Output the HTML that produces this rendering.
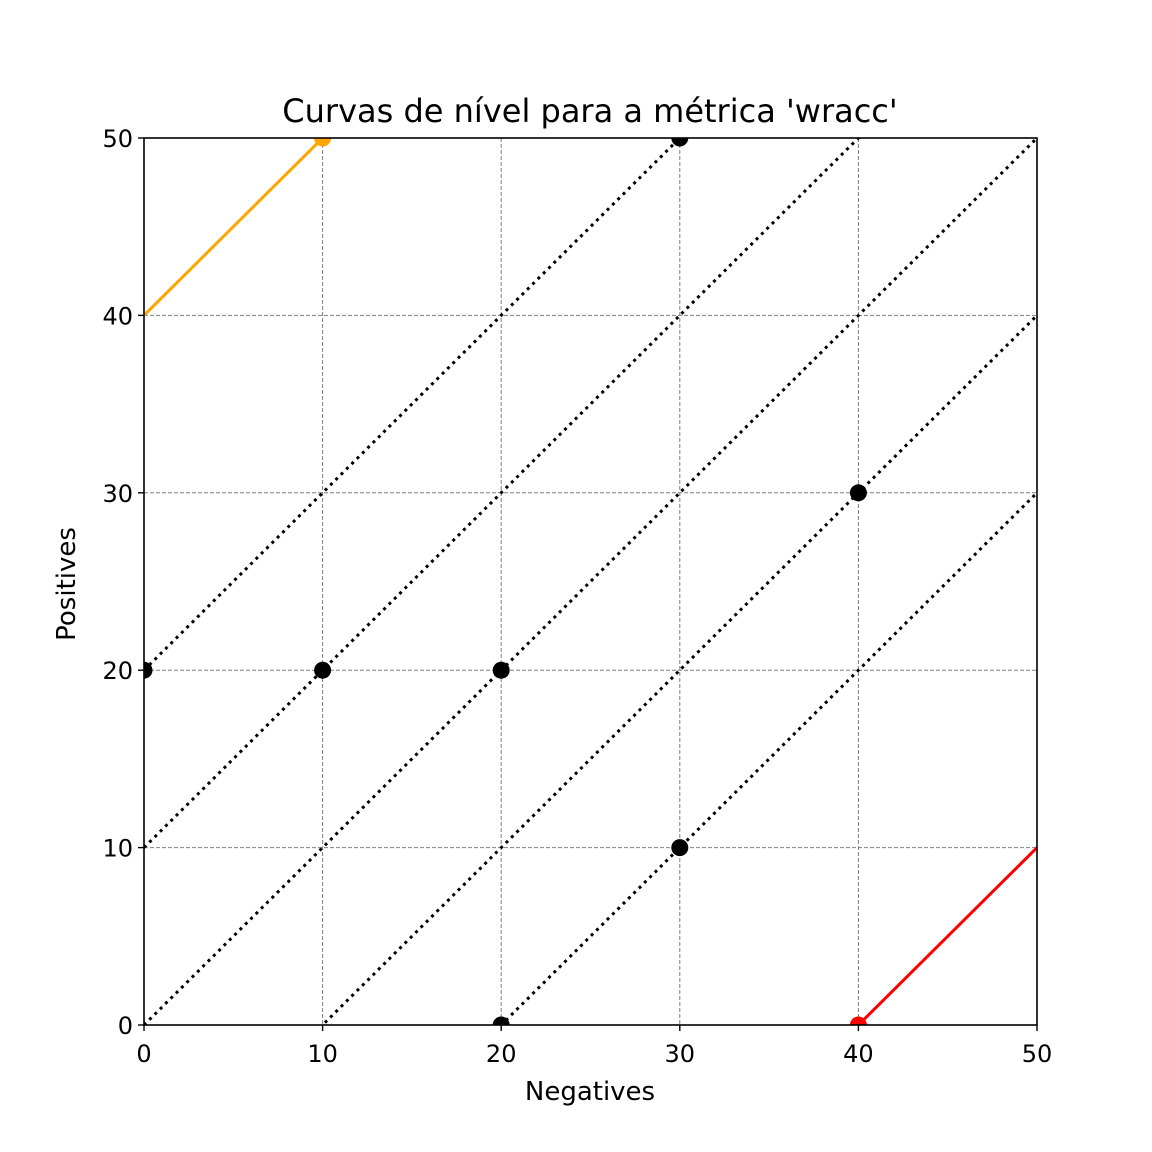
<!DOCTYPE html>
<html><head><meta charset="utf-8"><style>
html,body{margin:0;padding:0;background:#fff;overflow:hidden;width:1152px;height:1152px}
svg{display:block}
svg text{font-family:"DejaVu Sans","Liberation Sans",sans-serif;fill:#000}
.title{font-size:32px}
.tick{font-size:24px}
.axt{font-size:26px}
</style></head><body>
<svg id="chart" width="1152" height="1152" viewBox="0 0 1152 1152" xmlns="http://www.w3.org/2000/svg">
<rect width="1152" height="1152" fill="#fff"/>
<defs><clipPath id="clip"><rect x="144" y="138" width="893" height="887"/></clipPath></defs>
<text class="title" x="590" y="122" text-anchor="middle">Curvas de nível para a métrica 'wracc'</text>
<g id="grid"></g>
<g id="series" clip-path="url(#clip)"></g>
<rect x="144" y="138" width="893" height="887" fill="none" stroke="#000" stroke-width="1.6"/>
<g id="ticks"></g>
<text class="axt" x="590" y="1100" text-anchor="middle">Negatives</text>
<text class="axt" transform="translate(75,584) rotate(-90)" text-anchor="middle">Positives</text>
</svg>
<script>
const xTicks=[0,10,20,30,40,50];
const yTicks=[0,10,20,30,40,50];
const dottedOffsets=[20,10,0,-10,-20];
const blackPtsX=[0,30,10,20,40,30,20];
const blackPtsY=[20,50,20,20,30,10,0];
const orangeLine=[[0,40],[10,50]];
const redLine=[[40,0],[50,10]];
const orangePt=[10,50];
const redPt=[40,0];
const X0=144,X1=1037,Y0=1025,Y1=138;
const sx=v=>X0+(v/50)*(X1-X0);
const sy=v=>Y0-(v/50)*(Y0-Y1);
const NS="http://www.w3.org/2000/svg";
function mk(tag,attrs,parent){const e=document.createElementNS(NS,tag);for(const k in attrs)e.setAttribute(k,attrs[k]);document.getElementById(parent).appendChild(e);return e;}
xTicks.forEach(t=>{
 if(t>0&&t<50){const g=mk('line',{x1:sx(t),x2:sx(t),y1:Y1,y2:Y0,stroke:'#808080','stroke-width':1,'stroke-dasharray':'4 2'},'grid');
 
 }
 const tk=mk('line',{x1:sx(t),x2:sx(t),y1:Y0,y2:Y0+6,stroke:'#000','stroke-width':1.4},'ticks');
 
 
 const tx=mk('text',{x:sx(t),y:Y0+37,'class':'tick','text-anchor':'middle'},'ticks');tx.textContent=t;
 
 
});
yTicks.forEach(t=>{
 if(t>0&&t<50){const g=mk('line',{x1:X0,x2:X1,y1:sy(t),y2:sy(t),stroke:'#808080','stroke-width':1,'stroke-dasharray':'4 2'},'grid');
 
 }
 const tk=mk('line',{x1:X0-6,x2:X0,y1:sy(t),y2:sy(t),stroke:'#000','stroke-width':1.4},'ticks');
 
 
 const tx=mk('text',{x:X0-11,y:sy(t)+9,'class':'tick','text-anchor':'end'},'ticks');tx.textContent=t;
 
 
});
dottedOffsets.forEach(o=>{
 const l=mk('line',{x1:sx(0),y1:sy(o),x2:sx(50),y2:sy(50+o),stroke:'#000','stroke-width':3,'stroke-dasharray':'3 4.5'},'series');
 
 
});
const o1=mk('line',{x1:sx(orangeLine[0][0]),y1:sy(orangeLine[0][1]),x2:sx(orangeLine[1][0]),y2:sy(orangeLine[1][1]),stroke:'#ffa500','stroke-width':3},'series');


const r1=mk('line',{x1:sx(redLine[0][0]),y1:sy(redLine[0][1]),x2:sx(redLine[1][0]),y2:sy(redLine[1][1]),stroke:'#ff0000','stroke-width':3},'series');


blackPtsX.forEach((x,i)=>{
 const c=mk('circle',{cx:sx(x),cy:sy(blackPtsY[i]),r:8.5,fill:'#000'},'series');
 
 
});
const op=mk('circle',{cx:sx(orangePt[0]),cy:sy(orangePt[1]),r:8.5,fill:'#ffa500'},'series');


const rp=mk('circle',{cx:sx(redPt[0]),cy:sy(redPt[1]),r:8.5,fill:'#ff0000'},'series');


</script>
</body></html>
